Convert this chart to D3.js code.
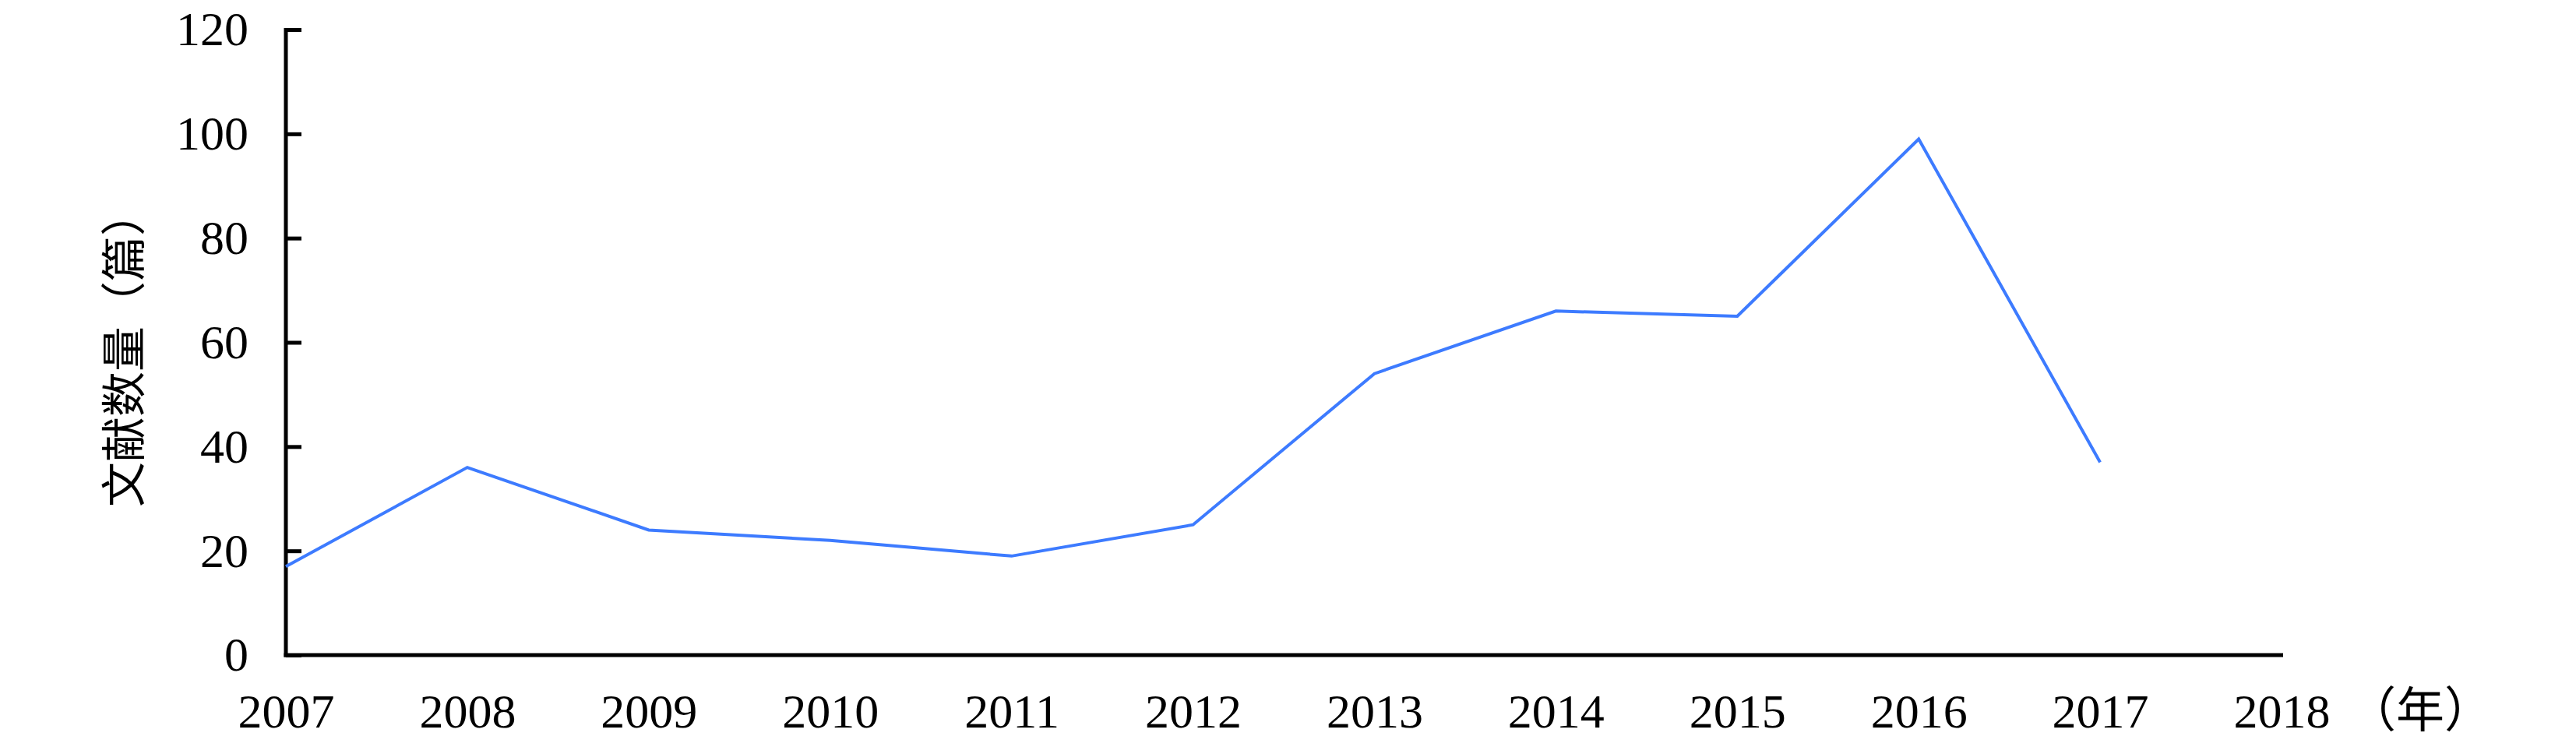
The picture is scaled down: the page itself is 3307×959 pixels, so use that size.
<!DOCTYPE html>
<html><head><meta charset="utf-8">
<script src="https://cdn.jsdelivr.net/npm/d3@7"></script>
<style>
html,body{margin:0;padding:0;background:#fff;}
svg{display:block;}
.num{font-family:"Liberation Serif","Times New Roman",serif;}
.cjk{font-family:"Noto Sans CJK SC","Noto Sans",sans-serif;}
</style>
</head><body>
<script>
const years = ["2007","2008","2009","2010","2011","2012","2013","2014","2015","2016","2017","2018"];
const dataYears = ["2007","2008","2009","2010","2011","2012","2013","2014","2015","2016","2017"];
const counts = [17,36,24,22,19,25,54,66,65,99,37];
const yTicks = [0,20,40,60,80,100,120];
const yTitle = "文献数量（篇）";
const xUnit = "（年）";

const W = 3307, H = 959;
const svg = d3.select("body").append("svg").attr("width", W).attr("height", H);

const x = d3.scalePoint().domain(years).range([367, 2929]).padding(0);
const y = d3.scaleLinear().domain([0,120]).range([841, 38]);

// x axis
const gx = svg.append("g").attr("transform","translate(0,841)")
  .call(d3.axisBottom(x).tickSize(0).tickPadding(49));
gx.select(".domain").attr("stroke","#000").attr("stroke-width",5).attr("d","M364.5,0H2931");
gx.selectAll("text").attr("class","num").attr("font-size",62).attr("fill","#000");

// y axis
const gy = svg.append("g").attr("transform","translate(367,0)")
  .call(d3.axisLeft(y).tickValues(yTicks).tickSizeInner(-20).tickSizeOuter(0).tickPadding(48));
gy.select(".domain").attr("stroke","#000").attr("stroke-width",5).attr("d","M0,36V843.5");
gy.selectAll(".tick line").attr("stroke","#000").attr("stroke-width",5);
gy.selectAll("text").attr("class","num").attr("font-size",62).attr("fill","#000");

// y title
svg.append("text").attr("class","cjk")
  .attr("transform","translate(155,448) rotate(-90)")
  .attr("text-anchor","middle").attr("dominant-baseline","central")
  .attr("font-size",58).attr("fill","#000").text(yTitle);

// x unit
svg.append("text").attr("class","cjk")
  .attr("x",3045).attr("y",934)
  .attr("font-size",62).attr("fill","#000")
  .style("font-feature-settings","'halt'")
  .text(xUnit);

// line
const line = d3.line().x((d,i)=>x(dataYears[i])).y(d=>y(d));
svg.append("path").datum(counts)
  .attr("fill","none").attr("stroke","#3d7bff").attr("stroke-width",4)
  .attr("stroke-linejoin","miter").attr("d",line);
</script>
</body></html>
